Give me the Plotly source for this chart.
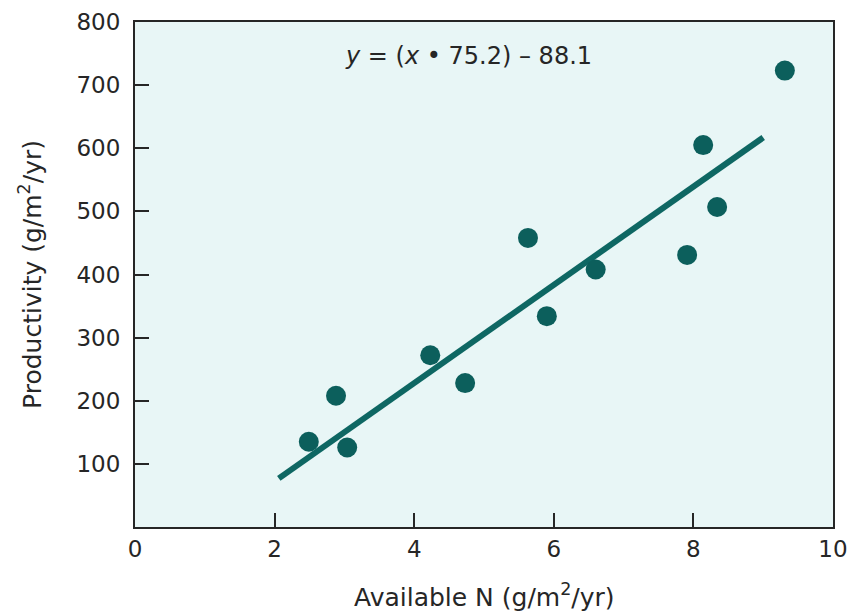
import plotly.graph_objects as go

# Data
n_available = [2.49, 2.88, 3.04, 4.23, 4.73, 5.63, 5.90, 6.60, 7.91, 8.14, 8.34, 9.31]
productivity = [135, 208, 126, 272, 228, 458, 334, 408, 431, 605, 507, 723]

fit_x = [2.06, 9.0]
fit_y = [77, 617]

x_ticks = [0, 2, 4, 6, 8, 10]
y_ticks = [100, 200, 300, 400, 500, 600, 700, 800]

equation = "<i>y</i> = (<i>x</i> \u2022 75.2) \u2013 88.1"
x_title = "Available N (g/m<sup>2</sup>/yr)"
y_title = "Productivity (g/m<sup>2</sup>/yr)"

teal = "#0c5f5c"
ink = "#262626"
font_family = "DejaVu Sans, Liberation Sans, Arial, sans-serif"

fig = go.Figure()
fig.add_trace(go.Scatter(
    x=fit_x, y=fit_y, mode="lines",
    line=dict(color="#0e6763", width=6),
    hoverinfo="skip", showlegend=False,
))
fig.add_trace(go.Scatter(
    x=n_available, y=productivity, mode="markers",
    marker=dict(color=teal, size=20, line=dict(width=0)),
    showlegend=False,
))

fig.add_annotation(
    x=4.785, y=746, xref="x", yref="y", text=equation, showarrow=False,
    font=dict(family=font_family, size=24, color=ink),
)
fig.add_annotation(
    x=0.5, y=-0.135, xref="paper", yref="paper", text=x_title,
    showarrow=False, xanchor="center", yanchor="middle",
    font=dict(family=font_family, size=25, color=ink),
)

axis_common = dict(
    showgrid=False, zeroline=False, showline=True, linecolor=ink,
    linewidth=2, mirror=True, ticks="inside", ticklen=14, tickwidth=2,
    tickcolor=ink, automargin=False, ticklabeloverflow="allow",
    tickfont=dict(family=font_family, size=23, color=ink),
)

fig.update_xaxes(
    range=[0, 10], tickvals=x_ticks,
    ticklabelstandoff=0,
    **axis_common,
)
fig.update_yaxes(
    range=[0, 800], tickvals=y_ticks,
    title=dict(text=y_title, standoff=28,
               font=dict(family=font_family, size=25, color=ink)),
    ticklabelstandoff=8,
    **axis_common,
)

fig.update_layout(
    width=851, height=605,
    margin=dict(l=127, r=26, t=14, b=86),
    plot_bgcolor="#e8f6f6", paper_bgcolor="white",
    showlegend=False,
)

fig.write_html("out.html")
